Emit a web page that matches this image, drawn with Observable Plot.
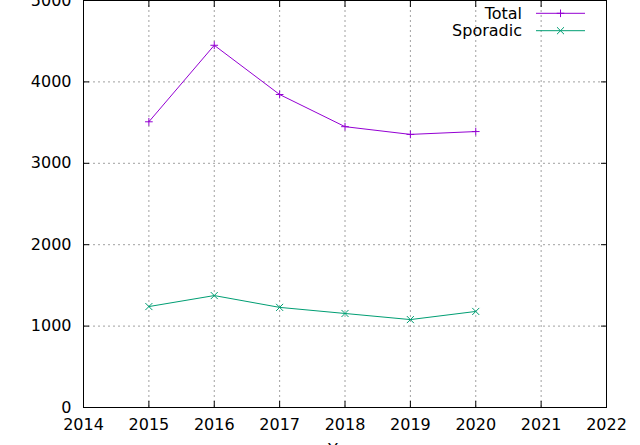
<!DOCTYPE html>
<html><head><meta charset="utf-8">
<script src="https://cdn.jsdelivr.net/npm/d3@7"></script>
<script src="https://cdn.jsdelivr.net/npm/@observablehq/plot@0.6"></script>
<style>
body{margin:0;background:#fff;}
#wrap{position:relative;width:640px;height:445px;overflow:hidden;}
#wrap svg{display:block;}
</style>
</head><body><div id="wrap"></div>
<script>
const years = [2015, 2016, 2017, 2018, 2019, 2020];
const total = [3510, 4450, 3845, 3450, 3355, 3390];
const sporadic = [1240, 1375, 1230, 1155, 1080, 1180];
const seriesNames = ["Total", "Sporadic"];
const seriesColors = ["#9400d3", "#009e73"];
const seriesSymbols = ["plus", "times"];
const xTicks = [2014, 2015, 2016, 2017, 2018, 2019, 2020, 2021, 2022];
const yTicks = [0, 1000, 2000, 3000, 4000, 5000];

const rows = [
  ...years.map((y, i) => ({year: y, value: total[i], series: "Total"})),
  ...years.map((y, i) => ({year: y, value: sporadic[i], series: "Sporadic"}))
];

const W = 640, H = 445, mL = 83, mR = 34, mT = 0, mB = 38;
const FONT = "16px";
const gridStyle = {stroke: "#a0a0a0", strokeOpacity: 1, strokeDasharray: "2,3", strokeWidth: 1};

const chart = Plot.plot({
  width: W, height: H,
  marginLeft: mL, marginRight: mR, marginTop: mT, marginBottom: mB,
  style: {fontFamily: "DejaVu Sans", fontSize: FONT, background: "white", color: "black", overflow: "visible"},
  x: {domain: [2014, 2022]},
  y: {domain: [0, 5000]},
  color: {domain: seriesNames, range: seriesColors},
  symbol: {domain: seriesNames, range: seriesSymbols},
  marks: [
    Plot.gridX(xTicks.slice(1, -1), gridStyle),
    Plot.gridY(yTicks.slice(1, -1), gridStyle),
    Plot.axisX({ticks: xTicks, tickSize: -6, tickPadding: 17, tickFormat: "d", label: "Year", labelAnchor: "center", labelArrow: "none", labelOffset: 47, stroke: "black"}),
    Plot.axisX({anchor: "top", ticks: xTicks, tickSize: -6, tickFormat: () => "", label: null}),
    Plot.axisY({ticks: yTicks, tickSize: -6, tickPadding: 18, tickFormat: "d", label: null}),
    Plot.axisY({anchor: "right", ticks: yTicks, tickSize: -6, tickFormat: () => "", label: null}),
    Plot.frame({stroke: "black", strokeWidth: 1}),
    Plot.line(rows, {x: "year", y: "value", z: "series", stroke: "series", strokeWidth: 1}),
    Plot.dot(rows, {filter: d => d.series === "Total", x: "year", y: "value", symbol: "series", stroke: "series", r: 2.6, strokeWidth: 1}),
    Plot.dot(rows, {filter: d => d.series === "Sporadic", x: "year", y: "value", symbol: "series", stroke: "series", r: 3.3, strokeWidth: 1})
  ]
});
const wrap = document.getElementById("wrap");
wrap.appendChild(chart);

// Legend overlay (top right, inside frame)
const legend = d3.create("svg")
  .attr("width", W).attr("height", H)
  .style("position", "absolute").style("left", "0px").style("top", "0px")
  .style("pointer-events", "none")
  .style("font-family", "DejaVu Sans").style("font-size", FONT);
const right = W - mR;
const symMap = {plus: d3.symbolPlus, times: d3.symbolTimes};
const symSize = {plus: 21, times: 34};
seriesNames.forEach((name, i) => {
  const cy = mT + 13.3 + i * 17.4;
  const g = legend.append("g");
  g.append("text").attr("x", right - 84).attr("y", cy).attr("text-anchor", "end")
    .attr("dominant-baseline", "central").attr("fill", "black").text(name);
  g.append("line").attr("x1", right - 70).attr("x2", right - 21).attr("y1", cy).attr("y2", cy)
    .attr("stroke", seriesColors[i]).attr("stroke-width", 1);
  g.append("path").attr("transform", `translate(${right - 45.5},${cy})`)
    .attr("d", d3.symbol(symMap[seriesSymbols[i]], symSize[seriesSymbols[i]])())
    .attr("fill", "none").attr("stroke", seriesColors[i]).attr("stroke-width", 1);
});
wrap.appendChild(legend.node());
</script>
</body></html>
